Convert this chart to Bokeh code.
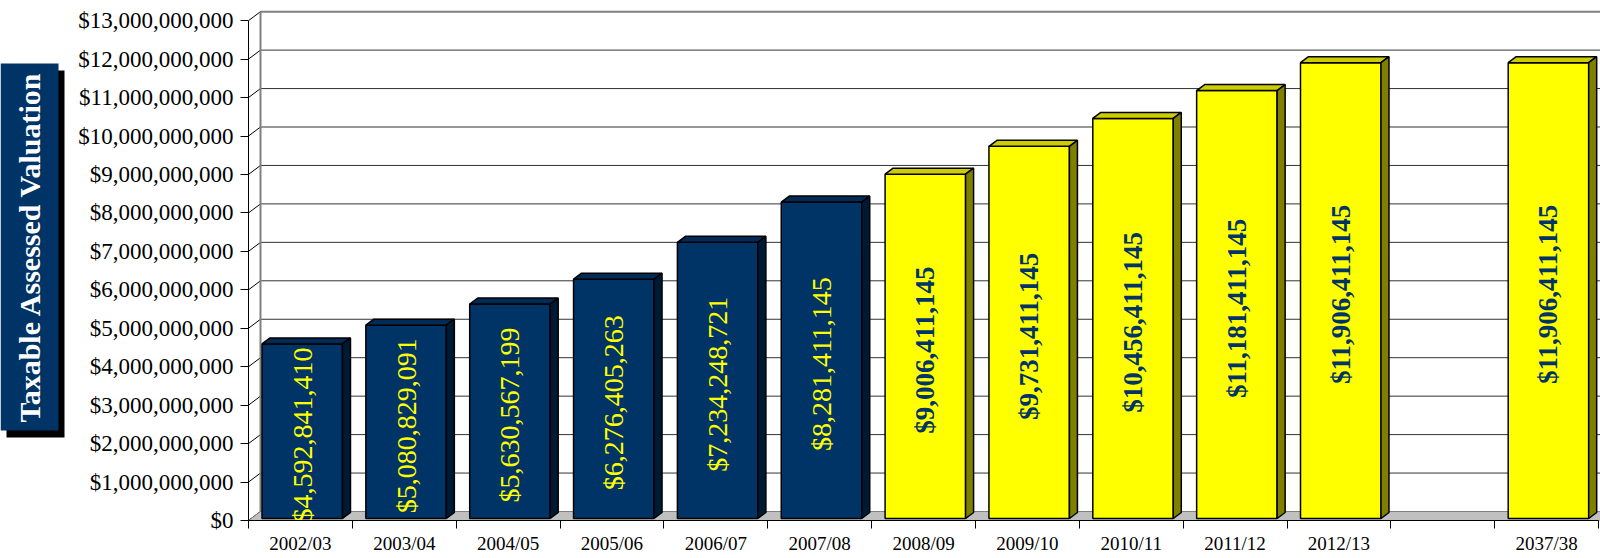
import math
from bokeh.plotting import figure
from bokeh.layouts import row
from bokeh.models import ColumnDataSource, Range1d, FixedTicker, NumeralTickFormatter
from bokeh.core.properties import value
from bokeh.embed import file_html
from bokeh.resources import INLINE

# ---------------- data ----------------
categories = ["2002/03", "2003/04", "2004/05", "2005/06", "2006/07", "2007/08",
              "2008/09", "2009/10", "2010/11", "2011/12", "2012/13", "", "2037/38"]
values = [4592841410, 5080829091, 5630567199, 6276405263, 7234248721, 8281411145,
          9006411145, 9731411145, 10456411145, 11181411145, 11906411145, None, 11906411145]
series = ["Actual"] * 6 + ["Projected"] * 5 + [None] + ["Projected"]
y_ticks = [0, 1000000000, 2000000000, 3000000000, 4000000000, 5000000000, 6000000000,
           7000000000, 8000000000, 9000000000, 10000000000, 11000000000, 12000000000,
           13000000000]
y_title = "Taxable Assessed Valuation"

# ---------------- styles ----------------
STYLE = {
    "Actual": dict(front="#003366", top="#002B57", side="#001A36",
                   label="#FFFF00", weight="normal", size="28px"),
    "Projected": dict(front="#FFFF00", top="#CCCC00", side="#808000",
                      label="#003366", weight="bold", size="27px"),
}
FONT = "Liberation Serif"
PX_X = 103.85          # pixels per category
PX_Y = 38.45           # pixels per billion
B = 1e9
WALL_DX = 12 / PX_X
WALL_DY = 9 / PX_Y * B
BAR_X0, BAR_X1 = 0.13, 0.905
BAR_DX = 8 / PX_X
BAR_DY = 6 / PX_Y * B
BAR_Y0 = 2 / PX_Y * B

H = 558
BOTTOM = 38
FRAME_W, FRAME_H = 1352, H - BOTTOM
x_end = FRAME_W / PX_X
y_end = FRAME_H / PX_Y * B
n = len(categories)

p = figure(width=1530, height=H, x_range=Range1d(0, x_end), y_range=Range1d(0, y_end),
           min_border_left=178, min_border_right=0, min_border_top=0, min_border_bottom=BOTTOM,
           toolbar_location=None, output_backend="svg", outline_line_color=None,
           background_fill_color="white", border_fill_color="white")
p.xgrid.visible = False
p.ygrid.visible = False

# back wall gridlines
p.segment(x0=[WALL_DX] * len(y_ticks), y0=[t + WALL_DY for t in y_ticks],
          x1=[x_end] * len(y_ticks), y1=[t + WALL_DY for t in y_ticks],
          line_color=["#333333"] * (len(y_ticks) - 1) + ["#808080"],
          line_width=[1] * (len(y_ticks) - 1) + [2])
# side-wall connectors from the axis ticks
p.segment(x0=[0] * len(y_ticks), y0=y_ticks, x1=[WALL_DX] * len(y_ticks),
          y1=[t + WALL_DY for t in y_ticks], line_color="black", line_width=1)
# back wall left edge
p.segment(x0=[WALL_DX], y0=[WALL_DY], x1=[WALL_DX], y1=[y_ticks[-1] + WALL_DY],
          line_color="#808080", line_width=2)
# floor
p.patch(x=[0, x_end, x_end, WALL_DX], y=[0, 0, WALL_DY, WALL_DY],
        fill_color="#C0C0C0", line_color="#808080", line_width=1)

# bars
for kind in ("Actual", "Projected"):
    st = STYLE[kind]
    fx, fy, tx, ty, sx, sy = [], [], [], [], [], []
    lx, ly, lt = [], [], []
    for i, (v, s) in enumerate(zip(values, series)):
        if v is None or s != kind:
            continue
        x0, x1 = i + BAR_X0, i + BAR_X1
        fx.append([x0, x1, x1, x0]); fy.append([BAR_Y0, BAR_Y0, v, v])
        tx.append([x0, x1, x1 + BAR_DX, x0 + BAR_DX]); ty.append([v, v, v + BAR_DY, v + BAR_DY])
        sx.append([x1, x1 + BAR_DX, x1 + BAR_DX, x1]); sy.append([BAR_Y0, BAR_Y0 + BAR_DY, v + BAR_DY, v])
        lx.append(i + (BAR_X0 + BAR_X1) / 2)
        ly.append((v + BAR_Y0) / 2 - 0.1 * B)
        lt.append("${:,}".format(v))
    p.patches(xs=fx, ys=fy, fill_color=st["front"], line_color="black", line_width=1.5)
    p.patches(xs=tx, ys=ty, fill_color=st["top"], line_color="black", line_width=1.5)
    p.patches(xs=sx, ys=sy, fill_color=st["side"], line_color="black", line_width=1.5)
    src = ColumnDataSource(dict(x=lx, y=ly, t=lt))
    p.text(x="x", y="y", text="t", source=src, angle=math.pi / 2,
           text_align="center", text_baseline="middle",
           text_font=value(FONT), text_font_size=st["size"],
           text_font_style=st["weight"], text_color=st["label"])

# x axis
xa = p.xaxis[0]
xa.ticker = FixedTicker(ticks=[i + 0.5 for i in range(n)], minor_ticks=list(range(n + 1)))
xa.major_label_overrides = {i + 0.5: c for i, c in enumerate(categories)}
xa.bounds = (0, n)
xa.major_tick_out = 0
xa.major_tick_in = 0
xa.minor_tick_out = 8
xa.minor_tick_in = 0
xa.minor_tick_line_color = "black"
xa.axis_line_color = "black"
xa.major_label_standoff = 4
xa.major_label_text_font = FONT
xa.major_label_text_font_size = "19px"
xa.major_label_text_color = "black"

# y axis
ya = p.yaxis[0]
ya.ticker = FixedTicker(ticks=y_ticks)
ya.formatter = NumeralTickFormatter(format="$0,0")
ya.bounds = (0, y_ticks[-1])
ya.major_tick_out = 8
ya.major_tick_in = 0
ya.minor_tick_out = 0
ya.minor_tick_in = 0
ya.axis_line_color = "black"
ya.major_tick_line_color = "black"
ya.major_label_standoff = 7
ya.major_label_text_font = FONT
ya.major_label_text_font_size = "23px"
ya.major_label_text_color = "black"

# title panel (y-axis title in a shaded box); frame = top 520 px, y = H - pixel
tf = figure(width=70, height=H, x_range=Range1d(0, 70), y_range=Range1d(BOTTOM, H),
            min_border=0, min_border_bottom=BOTTOM, toolbar_location=None, output_backend="svg",
            outline_line_color=None, x_axis_location=None, y_axis_location=None)
tf.xgrid.visible = False
tf.ygrid.visible = False
tf.quad(left=[6], right=[64], top=[H - 70], bottom=[H - 437], fill_color="black", line_color=None)
tf.quad(left=[0], right=[58], top=[H - 63], bottom=[H - 430], fill_color="#003366", line_color=None)
tf.text(x=[29], y=[H - 246.5], text=[y_title], angle=math.pi / 2,
        text_align="center", text_baseline="middle", text_font=value(FONT),
        text_font_size="30px", text_font_style="bold", text_color="white")

layout = row(tf, p, spacing=0)
open("out.html", "w").write(file_html(layout, INLINE))
